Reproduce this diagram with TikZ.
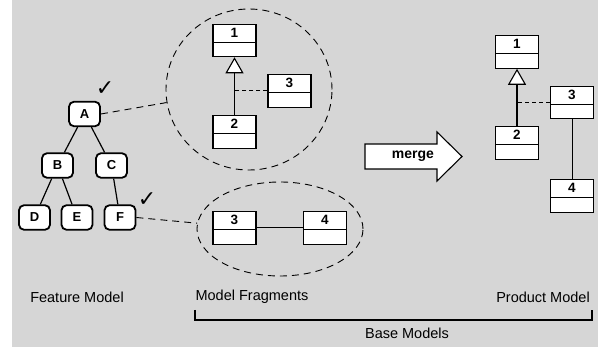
\documentclass[tikz,border=0pt]{standalone}
\usepackage{fontspec}
\setmainfont{Liberation Sans}
\newfontfamily\symfont{DejaVu Sans}
\usetikzlibrary{shapes.geometric,arrows.meta}
\definecolor{bggray}{HTML}{D6D6D6}
\begin{document}
\begin{tikzpicture}[x=1pt,y=-1pt,
  feat/.style={draw, line width=1.8pt, rounded corners=5pt, fill=white,
    minimum width=31pt, minimum height=24.5pt, inner sep=0pt,
    font=\fontsize{13}{13}\selectfont\bfseries},
  cls/.style={draw, line width=1.1pt, fill=white, minimum width=43pt,
    minimum height=32.5pt, inner sep=0pt,
    path picture={\draw[line width=1.1pt]
      ([yshift=14.5pt]path picture bounding box.south west) --
      ([yshift=14.5pt]path picture bounding box.south east);},
    label={[anchor=center, yshift=-9pt, inner sep=0pt,
      font=\fontsize{13.5}{13.5}\selectfont\bfseries]north:#1}},
  edge/.style={line width=1.2pt},
  frag/.style={draw, ellipse, line width=0.9pt, dash pattern=on 7pt off 5pt},
  link/.style={line width=0.9pt, dash pattern=on 7pt off 5pt},
  dep/.style={line width=1pt, dash pattern=on 4pt off 3pt},
  gen/.style={line width=1.1pt, -{Triangle[length=16pt, width=18pt, fill=white]}},
  tick/.style={font=\symfont\fontsize{22}{22}\selectfont, inner sep=0pt},
  caption/.style={font=\fontsize{14.5}{16}\selectfont, inner sep=0pt}
]
\useasboundingbox (0,0) rectangle (598,347);
\fill[bggray] (12,0) rectangle (598,347);

% feature model
\node[feat] (A) at (84.5,114) {A};
\node[feat] (B) at (57.5,165.5) {B};
\node[feat] (C) at (111.5,165.5) {C};
\node[feat] (D) at (34.5,217.5) {D};
\node[feat] (E) at (77,217.5) {E};
\node[feat] (F) at (120,217.5) {F};
\draw[edge] (A) -- (B);
\draw[edge] (A) -- (C);
\draw[edge] (B) -- (D);
\draw[edge] (B) -- (E);
\draw[edge] (C) -- (F);
\node[tick] (tA) at (105,89) {✓};
\node[tick] (tF) at (147,200) {✓};

% fragments
\node[frag, minimum width=166pt, minimum height=161pt] (E1) at (249,89.5) {};
\node[frag, minimum width=166pt, minimum height=94pt] (E2) at (280,229) {};
\draw[link] (A.east) -- (E1.189);
\draw[link] (F.east) -- (E2.176);

\node[cls=1] (f1) at (234.5,40.5) {};
\node[cls=2] (f2) at (234.5,132) {};
\node[cls=3] (f3) at (289.5,91) {};
\draw[gen] (f2.north) -- (f1.south);
\draw[dep] (f3.west) -- (f3.west -| f2.north);

\node[cls=3] (g3) at (234.5,228) {};
\node[cls=4] (g4) at (325,228) {};
\draw[line width=1pt] (g3.east) -- (g4.west);

% merge arrow
\draw[line width=1.1pt, fill=white] (365,144) -- (437,144) -- (437,132) -- (462,156.5)
  -- (437,181) -- (437,169) -- (365,169) -- cycle;
\node[font=\fontsize{14}{14}\selectfont\bfseries, inner sep=0pt] (merge) at (413,156.5) {merge};

% product model
\node[cls=1] (p1) at (517,52) {};
\node[cls=2] (p2) at (517,143) {};
\node[cls=3] (p3) at (572,102.5) {};
\node[cls=4] (p4) at (572,196) {};
\draw[gen] (p2.north) -- (p1.south);
\draw[dep] (p3.west) -- (p3.west -| p2.north);
\draw[line width=1pt] (p3.south) -- (p4.north);

% captions
\node[caption] (l1) at (77,297) {Feature Model};
\node[caption] (l2) at (252,297) {Model Fragments};
\node[caption] (l3) at (543,297) {Product Model};
\node[caption] (l4) at (407,333) {Base Models};
\coordinate (bl) at (195,310);
\coordinate (br) at (592,310);
\draw[line width=1.3pt] (bl) -- ++(0,10) -| (br);
\end{tikzpicture}
\end{document}
